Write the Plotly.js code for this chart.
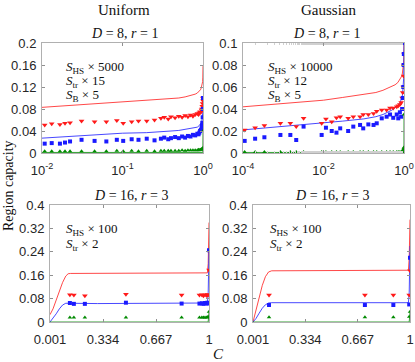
<!DOCTYPE html>
<html>
<head>
<meta charset="utf-8">
<script src="https://cdn.plot.ly/plotly-3.0.1.min.js"></script>
<style>
  html, body { margin: 0; padding: 0; background: #fff; }
  #plot { width: 415px; height: 362px; }
</style>
</head>
<body>
<div id="plot"></div>
<script>
// ---- Uniform, D = 8, r = 1 (log x) ----
var uniLineC = [0.01, 0.02, 0.05, 0.1, 0.2, 0.3, 0.4, 0.5, 0.6, 0.7, 0.8, 0.85, 0.9, 0.93, 0.95, 0.97, 0.98, 0.99, 0.995, 1.0];
var uniLineHS = [0.083, 0.086, 0.09, 0.093, 0.095, 0.097, 0.099, 0.1, 0.102, 0.104, 0.107, 0.109, 0.112, 0.115, 0.118, 0.122, 0.125, 0.13, 0.138, 0.158];
var uniLineTr = [0.027, 0.03, 0.033, 0.036, 0.037, 0.038, 0.04, 0.041, 0.043, 0.044, 0.046, 0.047, 0.05, 0.052, 0.055, 0.058, 0.062, 0.068, 0.075, 0.1];
var uniLineB = [0.001, 0.001, 0.001, 0.001, 0.001, 0.001, 0.001, 0.001, 0.001, 0.001, 0.001, 0.001, 0.001, 0.001, 0.001, 0.001, 0.001, 0.001, 0.001, 0.04];

var uniPtC = [0.0108, 0.0132, 0.0167, 0.0193, 0.0223, 0.031, 0.045, 0.063, 0.085, 0.102, 0.13, 0.158, 0.2, 0.25, 0.3, 0.33, 0.37, 0.4, 0.45, 0.5, 0.55, 0.6, 0.65, 0.7, 0.75, 0.8, 0.85, 0.88, 0.9, 0.92, 0.94, 0.96, 0.97, 0.98, 0.99, 0.995, 1.0];
var uniPtHS = [0.051, 0.053, 0.052, 0.054, 0.055, 0.058, 0.057, 0.057, 0.059, 0.054, 0.057, 0.058, 0.058, 0.06, 0.063, 0.065, 0.062, 0.066, 0.064, 0.067, 0.065, 0.068, 0.066, 0.069, 0.067, 0.07, 0.072, 0.07, 0.073, 0.075, 0.074, 0.078, 0.08, 0.085, 0.09, 0.1, 0.095];
var uniPtTr = [0.017, 0.018, 0.017, 0.019, 0.021, 0.024, 0.022, 0.021, 0.024, 0.022, 0.025, 0.024, 0.026, 0.023, 0.026, 0.028, 0.025, 0.027, 0.029, 0.027, 0.03, 0.028, 0.031, 0.03, 0.033, 0.032, 0.035, 0.034, 0.037, 0.04, 0.042, 0.045, 0.05, 0.055, 0.065, 0.08, 0.1];
var uniPtB = [0.003, 0.003, 0.003, 0.003, 0.003, 0.003, 0.003, 0.003, 0.004, 0.003, 0.004, 0.003, 0.004, 0.003, 0.004, 0.004, 0.004, 0.004, 0.004, 0.004, 0.005, 0.004, 0.005, 0.005, 0.005, 0.005, 0.005, 0.006, 0.005, 0.006, 0.006, 0.007, 0.007, 0.007, 0.008, 0.009, 0.04];

// ---- Gaussian, D = 8, r = 1 (log x) ----
var gauLineC = [1e-4, 3e-4, 1e-3, 3e-3, 0.01, 0.03, 0.1, 0.2, 0.3, 0.4, 0.5, 0.6, 0.7, 0.8, 0.85, 0.9, 0.93, 0.95, 0.97, 0.98, 0.99, 0.995, 1.0];
var gauLineHS = [0.042, 0.0435, 0.045, 0.0465, 0.048, 0.0505, 0.053, 0.055, 0.057, 0.059, 0.06, 0.062, 0.064, 0.067, 0.069, 0.071, 0.074, 0.076, 0.079, 0.082, 0.087, 0.092, 0.1];
var gauLineTr = [0.021, 0.0225, 0.024, 0.0255, 0.027, 0.029, 0.031, 0.033, 0.035, 0.037, 0.039, 0.041, 0.043, 0.046, 0.048, 0.051, 0.055, 0.058, 0.063, 0.068, 0.078, 0.088, 0.1];
var gauLineB = [0.0005, 0.0005, 0.0005, 0.0005, 0.0005, 0.0005, 0.0005, 0.0005, 0.0005, 0.0005, 0.0005, 0.0005, 0.0005, 0.0005, 0.0005, 0.0005, 0.0005, 0.0005, 0.0005, 0.0005, 0.0005, 0.0005, 0.035];

var gauPtC = [1.1e-4, 2e-4, 3.4e-4, 8.5e-4, 1.5e-3, 2.1e-3, 3.2e-3, 9e-3, 0.0115, 0.016, 0.021, 0.026, 0.041, 0.055, 0.081, 0.097, 0.13, 0.175, 0.21, 0.28, 0.37, 0.45, 0.54, 0.66, 0.72, 0.79, 0.85, 0.9, 0.93, 0.96, 0.98, 0.99, 1.0];
var gauPtHS = [0.021, 0.023, 0.025, 0.027, 0.027, 0.024, 0.0315, 0.027, 0.031, 0.0285, 0.032, 0.033, 0.0315, 0.033, 0.033, 0.035, 0.035, 0.036, 0.038, 0.039, 0.039, 0.041, 0.041, 0.042, 0.043, 0.044, 0.046, 0.05, 0.055, 0.06, 0.07, 0.08, 0.09];
var gauPtTr = [0.011, 0.013, 0.0143, 0.0164, 0.0164, 0.0118, 0.024, 0.0164, 0.023, 0.02, 0.0185, 0.0224, 0.02, 0.024, 0.0255, 0.0224, 0.026, 0.0255, 0.027, 0.0315, 0.033, 0.035, 0.032, 0.035, 0.0315, 0.037, 0.033, 0.04, 0.05, 0.06, 0.08, 0.09, 0.1];
var gauPtB = [0.001, 0.001, 0.001, 0.001, 0.001, 0.001, 0.001, 0.001, 0.001, 0.001, 0.001, 0.001, 0.001, 0.001, 0.001, 0.001, 0.001, 0.001, 0.001, 0.001, 0.001, 0.001, 0.001, 0.001, 0.001, 0.001, 0.001, 0.001, 0.002, 0.003, 0.004, 0.005, 0.035];

// ---- Uniform, D = 16, r = 3 (linear x) ----
var uni16LineC = [0.001, 0.02, 0.04, 0.06, 0.08, 0.1, 0.115, 0.13, 0.3, 0.5, 0.7, 0.9, 0.99, 0.995, 1.0];
var uni16LineHS = [0.025, 0.045, 0.075, 0.105, 0.135, 0.157, 0.165, 0.166, 0.166, 0.167, 0.167, 0.168, 0.168, 0.2, 0.34];
var uni16LineTr = [0, 0.012, 0.028, 0.045, 0.058, 0.064, 0.065, 0.064, 0.063, 0.063, 0.064, 0.064, 0.065, 0.1, 0.25];
var uni16LineB = [0, 0, 0, 0, 0, 0, 0, 0, 0, 0, 0, 0, 0, 0, 0.035];

var uni16PtC = [0.126, 0.151, 0.22, 0.478, 0.828, 0.94, 0.955, 0.965, 0.975, 0.985, 0.99, 0.995, 1.0];
var uni16PtHS = [0.093, 0.092, 0.09, 0.095, 0.092, 0.092, 0.093, 0.09, 0.093, 0.091, 0.094, 0.092, 0.178];
var uni16PtTr = [0.065, 0.062, 0.062, 0.066, 0.063, 0.063, 0.064, 0.062, 0.065, 0.063, 0.066, 0.064, 0.245];
var uni16PtB = [0.015, 0.015, 0.015, 0.015, 0.015, 0.015, 0.015, 0.015, 0.015, 0.015, 0.016, 0.018, 0.035];

// ---- Gaussian, D = 16, r = 3 (linear x) ----
var gau16LineC = [0.001, 0.02, 0.04, 0.06, 0.08, 0.1, 0.12, 0.3, 0.5, 0.7, 0.9, 0.99, 0.995, 1.0];
var gau16LineHS = [0, 0.04, 0.085, 0.125, 0.155, 0.171, 0.175, 0.175, 0.176, 0.176, 0.177, 0.177, 0.22, 0.35];
var gau16LineTr = [0, 0.012, 0.03, 0.047, 0.059, 0.065, 0.066, 0.066, 0.066, 0.066, 0.066, 0.066, 0.1, 0.26];
var gau16LineB = [0, 0, 0, 0, 0, 0, 0, 0, 0, 0, 0, 0, 0, 0.035];

var gau16PtC = [0.103, 0.713, 0.894, 0.995, 1.0];
var gau16PtHS = [0.092, 0.092, 0.092, 0.092, 0.175];
var gau16PtTr = [0.058, 0.058, 0.058, 0.06, 0.22];
var gau16PtB = [0.016, 0.016, 0.016, 0.018, 0.035];

// tick labels
var logTicksUni = [0.01, 0.1, 1];
var logTextUni = ['10<sup>-2</sup>', '10<sup>-1</sup>', '10<sup>0</sup>'];
var logTicksGau = [0.0001, 0.01, 1];
var logTextGau = ['10<sup>-4</sup>', '10<sup>-2</sup>', '10<sup>0</sup>'];
var linTicks = [0.001, 0.334, 0.667, 1];
var linText = ['0.001', '0.334', '0.667', '1'];

var RED = '#ff1a1a', BLUE = '#1a1aff', GREEN = '#008a00';

function lineTrace(x, y, color, ax) {
    return { x: x, y: y, type: 'scatter', mode: 'lines', xaxis: 'x' + ax, yaxis: 'y' + ax,
             line: { color: color, width: 1 }, opacity: 0.8, hoverinfo: 'skip' };
}
function markTrace(x, y, color, symbol, size, ax) {
    return { x: x, y: y, type: 'scatter', mode: 'markers', xaxis: 'x' + ax, yaxis: 'y' + ax,
             marker: { color: color, symbol: symbol, size: size, line: { width: 0 } } };
}

var data = [
    lineTrace(uniLineC, uniLineHS, RED, ''), lineTrace(uniLineC, uniLineTr, BLUE, ''), lineTrace(uniLineC, uniLineB, GREEN, ''),
    markTrace(uniPtC, uniPtHS, RED, 'triangle-down', 5, ''), markTrace(uniPtC, uniPtTr, BLUE, 'square', 4, ''), markTrace(uniPtC, uniPtB, GREEN, 'triangle-up', 4, ''),

    lineTrace(gauLineC, gauLineHS, RED, '2'), lineTrace(gauLineC, gauLineTr, BLUE, '2'), lineTrace(gauLineC, gauLineB, GREEN, '2'),
    markTrace(gauPtC, gauPtHS, RED, 'triangle-down', 5, '2'), markTrace(gauPtC, gauPtTr, BLUE, 'square', 4, '2'), markTrace(gauPtC, gauPtB, GREEN, 'triangle-up', 4, '2'),

    lineTrace(uni16LineC, uni16LineHS, RED, '3'), lineTrace(uni16LineC, uni16LineTr, BLUE, '3'), lineTrace(uni16LineC, uni16LineB, GREEN, '3'),
    markTrace(uni16PtC, uni16PtHS, RED, 'triangle-down', 5, '3'), markTrace(uni16PtC, uni16PtTr, BLUE, 'square', 4, '3'), markTrace(uni16PtC, uni16PtB, GREEN, 'triangle-up', 4, '3'),

    lineTrace(gau16LineC, gau16LineHS, RED, '4'), lineTrace(gau16LineC, gau16LineTr, BLUE, '4'), lineTrace(gau16LineC, gau16LineB, GREEN, '4'),
    markTrace(gau16PtC, gau16PtHS, RED, 'triangle-down', 5, '4'), markTrace(gau16PtC, gau16PtTr, BLUE, 'square', 4, '4'), markTrace(gau16PtC, gau16PtB, GREEN, 'triangle-up', 4, '4')
];

var W = 415, H = 362;
function px(v) { return v / W; }
function py(v) { return 1 - v / H; }

var tickFont = { family: 'Liberation Sans, Arial, sans-serif', size: 13, color: '#262626' };
function axis(extra) {
    var a = { showline: true, mirror: 'ticks', linecolor: '#b0b0b0', linewidth: 1,
              ticks: 'inside', ticklen: 3, tickcolor: '#909090', showgrid: false, zeroline: false,
              tickfont: tickFont, ticklabelstandoff: 2, fixedrange: true };
    for (var k in extra) a[k] = extra[k];
    return a;
}
var minor = { ticks: 'inside', ticklen: 2, tickcolor: '#d0d0d0', showgrid: false };

var serif = 'Liberation Serif, Times New Roman, serif';
function note(x, y, text, size, anchor) {
    return { xref: 'paper', yref: 'paper', x: px(x), y: py(y), text: text, showarrow: false,
             xanchor: anchor || 'center', yanchor: 'middle', font: { family: serif, size: size || 14, color: '#111' } };
}

var layout = {
    width: W, height: H,
    margin: { l: 0, r: 0, t: 0, b: 0 },
    paper_bgcolor: '#fff', plot_bgcolor: '#fff',
    showlegend: false,
    xaxis: axis({ domain: [px(42), px(203)], type: 'log', range: [-2, 0], tickvals: logTicksUni, ticktext: logTextUni, anchor: 'y', ticklabelstandoff: 5 }),
    yaxis: axis({ domain: [py(153), py(43)], range: [0, 0.2], tickvals: [0, 0.04, 0.08, 0.12, 0.16, 0.2], anchor: 'x' }),
    xaxis2: axis({ domain: [px(243), px(404)], type: 'log', range: [-4, 0], tickvals: logTicksGau, ticktext: logTextGau, anchor: 'y2', minor: minor, ticklabelstandoff: 5 }),
    yaxis2: axis({ domain: [py(153), py(43)], range: [0, 0.1], tickvals: [0, 0.02, 0.04, 0.06, 0.08, 0.1], anchor: 'x2' }),
    xaxis3: axis({ domain: [px(50), px(209)], range: [0.001, 1], tickvals: linTicks, ticktext: linText, anchor: 'y3', ticklabelstandoff: 5 }),
    yaxis3: axis({ domain: [py(322), py(205)], range: [0, 0.4], tickvals: [0, 0.08, 0.16, 0.24, 0.32, 0.4], anchor: 'x3' }),
    xaxis4: axis({ domain: [px(253), px(410)], range: [0.001, 1], tickvals: linTicks, ticktext: linText, anchor: 'y4', ticklabelstandoff: 5 }),
    yaxis4: axis({ domain: [py(322), py(205)], range: [0, 0.4], tickvals: [0, 0.08, 0.16, 0.24, 0.32, 0.4], anchor: 'x4' }),
    annotations: [
        note(124, 10, 'Uniform', 15),
        note(328, 10, 'Gaussian', 15),
        note(124, 33, '<i>D</i> = 8, <i>r</i> = 1', 14),
        note(326, 33, '<i>D</i> = 8, <i>r</i> = 1', 14),
        note(131, 195, '<i>D</i> = 16, <i>r</i> = 3', 14),
        note(332, 195, '<i>D</i> = 16, <i>r</i> = 3', 14),
        note(64, 67, '<i>S</i><sub>HS</sub> × 5000', 13, 'left'),
        note(64, 81, '<i>S</i><sub>tr</sub> × 15', 13, 'left'),
        note(64, 95, '<i>S</i><sub>B</sub> × 5', 13, 'left'),
        note(266, 67, '<i>S</i><sub>HS</sub> × 10000', 13, 'left'),
        note(266, 81, '<i>S</i><sub>tr</sub> × 12', 13, 'left'),
        note(266, 95, '<i>S</i><sub>B</sub> × 5', 13, 'left'),
        note(64, 229, '<i>S</i><sub>HS</sub> × 100', 13, 'left'),
        note(64, 244, '<i>S</i><sub>tr</sub> × 2', 13, 'left'),
        note(268, 229, '<i>S</i><sub>HS</sub> × 100', 13, 'left'),
        note(268, 244, '<i>S</i><sub>tr</sub> × 2', 13, 'left'),
        note(218, 354, '<i>C</i>', 15),
        { xref: 'paper', yref: 'paper', x: px(8), y: py(186), text: 'Region capacity', showarrow: false,
          textangle: -90, xanchor: 'center', yanchor: 'middle', font: { family: serif, size: 14, color: '#111' } }
    ]
};

Plotly.newPlot('plot', data, layout, { displayModeBar: false, staticPlot: true });
</script>
</body>
</html>
